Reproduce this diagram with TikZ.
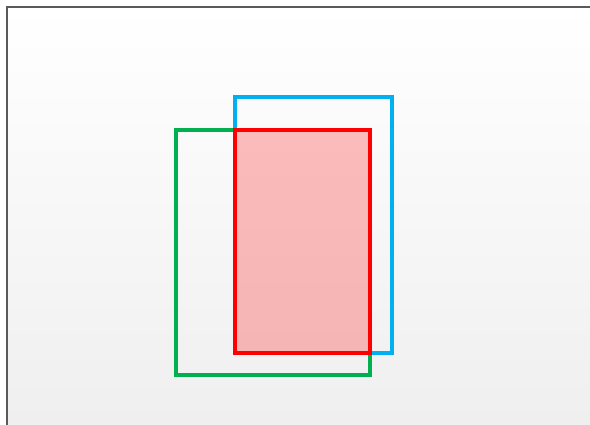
\documentclass[tikz,border=0pt]{standalone}
\begin{document}
\begin{tikzpicture}[x=1pt,y=-1pt,
  box/.style={line width=4pt, line join=miter},
]
\useasboundingbox (0,0) rectangle (590,425);
\fill[white] (0,0) rectangle (590,425);
\shade[top color=white, bottom color={rgb,255:red,239;green,239;blue,239}] (7,7) rectangle (590,425);
\draw[line width=1.2pt, color={rgb,255:red,90;green,90;blue,90}] (7,425) -- (7,7) -- (590,7);
\draw[box, color={rgb,255:red,0;green,176;blue,80}] (176,130) rectangle (370,375);
\draw[box, color={rgb,255:red,0;green,176;blue,240}] (235,97) rectangle (392,353);
\fill[red, fill opacity=0.25] (235,130) rectangle (370,353);
\draw[box, red] (235,130) rectangle (370,353);
\end{tikzpicture}
\end{document}
